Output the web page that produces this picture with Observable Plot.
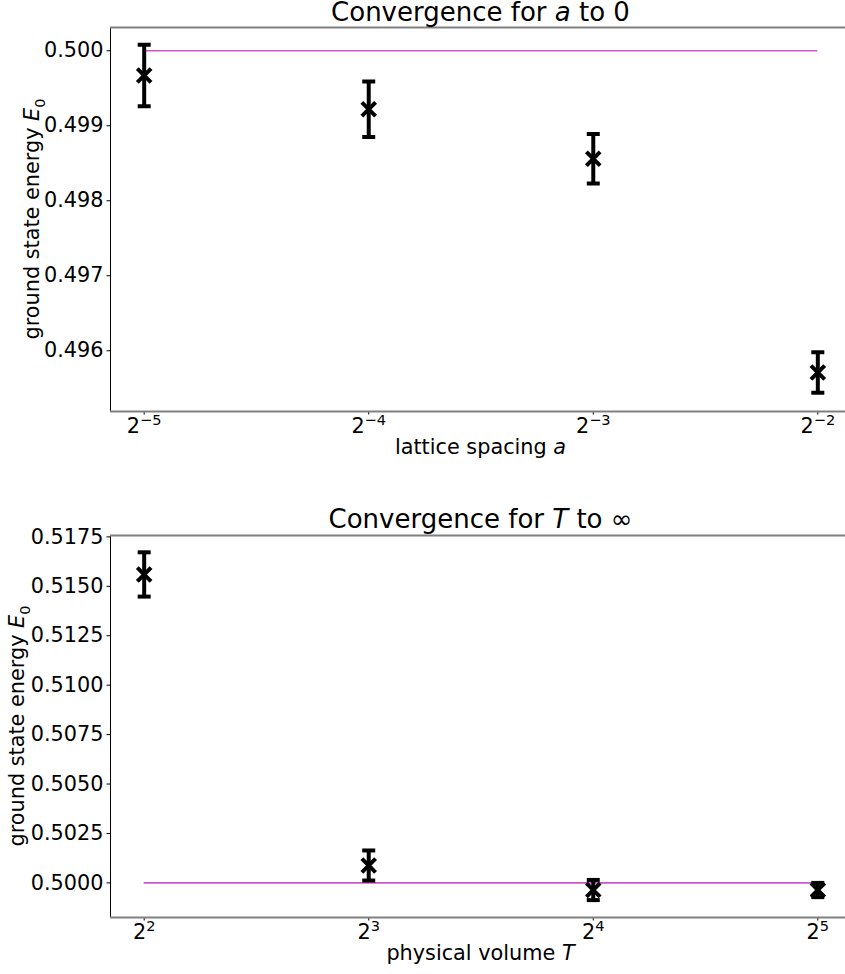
<!DOCTYPE html>
<html><head><meta charset="utf-8">
<script src="https://cdn.jsdelivr.net/npm/d3@7"></script>
<script src="https://cdn.jsdelivr.net/npm/@observablehq/plot@0.6"></script>
<style>
body{margin:0;background:#fff;}
#chart{position:relative;width:845px;height:974px;overflow:hidden;background:#fff;}
#chart svg{display:block;overflow:hidden;}
</style></head><body><div id="chart"></div>
<script>
// ---- data ----
const latticeSpacing = [0.03125, 0.0625, 0.125, 0.25];
const energyA = [0.49967, 0.49922, 0.49856, 0.49571];
const errorA = [0.00041, 0.00037, 0.00033, 0.00027];
const latticeTickLabels = ["2^−5", "2^−4", "2^−3", "2^−2"];
const yTicksA = [0.496, 0.497, 0.498, 0.499, 0.500];

const physicalVolume = [4, 8, 16, 32];
const energyT = [0.51560, 0.50088, 0.49964, 0.49964];
const errorT = [0.00112, 0.00076, 0.00051, 0.00036];
const volumeTickLabels = ["2^2", "2^3", "2^4", "2^5"];
const yTicksT = [0.5000, 0.5025, 0.5050, 0.5075, 0.5100, 0.5125, 0.5150, 0.5175];

const exactEnergy = 0.5;

// ---- helpers ----
const capSymbol = {draw(ctx, size) {const r = Math.sqrt(size / Math.PI); ctx.moveTo(-r, 0); ctx.lineTo(r, 0);}};
const FONT = "DejaVu Sans";
const FS = 20.8;

function panel({xs, ys, errs, xTickLabels, yTicks, yFormat, xDomain, yDomain, height, marginTop, marginBottom}) {
  const data = xs.map((x, i) => ({x, y: ys[i], lo: ys[i] - errs[i], hi: ys[i] + errs[i]}));
  const ref = [{x1: xs[0], x2: xs[xs.length - 1], y: exactEnergy}];
  const svg = Plot.plot({
    width: 845, height, marginLeft: 110, marginRight: -6, marginTop, marginBottom,
    style: {fontFamily: FONT, fontSize: FS + "px", color: "#000", background: "#fff", overflow: "hidden"},
    x: {type: "log", base: 2, domain: xDomain, range: [110, 851]},
    y: {domain: yDomain},
    marks: [
      Plot.ruleY(ref, {x1: "x1", x2: "x2", y: "y", stroke: "#cc55cc", strokeWidth: 1.6}),
      Plot.ruleX(data, {x: "x", y1: "lo", y2: "hi", stroke: "#000", strokeWidth: 4}),
      Plot.dot(data, {x: "x", y: "lo", symbol: capSymbol, r: 6.5, fill: "none", stroke: "#000", strokeWidth: 4}),
      Plot.dot(data, {x: "x", y: "hi", symbol: capSymbol, r: 6.5, fill: "none", stroke: "#000", strokeWidth: 4}),
      Plot.dot(data, {x: "x", y: "y", symbol: "times", r: 6.3, fill: "none", stroke: "#000", strokeWidth: 4}),
      Plot.axisX({ticks: xs, tickFormat: d => xTickLabels[xs.indexOf(d)], tickSize: 3.5, tickPadding: 3, fontSize: FS, label: null, strokeWidth: 1}),
      Plot.axisY({ticks: yTicks, tickFormat: yFormat, tickSize: 3.5, tickPadding: 3.5, fontSize: FS, label: null, strokeWidth: 1}),
      Plot.ruleX([xDomain[0]], {stroke: "#000", strokeWidth: 1}),
      Plot.ruleY([yDomain[1]], {stroke: "#808080", strokeWidth: 2}),
      Plot.ruleY([yDomain[0]], {stroke: "#808080", strokeWidth: 2})
    ]
  });
  // render "base^exp" tick labels with a real superscript
  d3.select(svg).selectAll('g[aria-label="x-axis tick label"] text').each(function() {
    const [base, exp] = this.textContent.split("^");
    const t = d3.select(this).text("");
    t.append("tspan").text(base);
    t.append("tspan").text(exp).attr("font-size", FS * 0.7).attr("dy", -8);
  });
  return svg;
}

function addText(svg, {x, y, rotate, size, parts}) {
  const t = d3.select(svg).append("text")
    .attr("x", x).attr("y", y).attr("text-anchor", "middle")
    .attr("font-size", size).attr("font-family", FONT).attr("fill", "#000");
  if (rotate) t.attr("transform", `rotate(${rotate},${x},${y})`);
  parts.forEach(p => {
    const s = t.append("tspan").text(p.text);
    if (p.italic) s.attr("font-style", "italic");
    if (p.sub) s.attr("font-size", size * 0.7).attr("dy", size * 0.28);
  });
}

const chart = document.getElementById("chart");

// top panel
const panelA = panel({
  xs: latticeSpacing, ys: energyA, errs: errorA, xTickLabels: latticeTickLabels,
  yTicks: yTicksA, yFormat: d3.format(".3f"),
  xDomain: [Math.pow(2, -5.15), Math.pow(2, -1.85)], yDomain: [0.49519, 0.50031],
  height: 487, marginTop: 27, marginBottom: 76
});
addText(panelA, {x: 480.5, y: 21, size: 26, parts: [{text: "Convergence for "}, {text: "a", italic: true}, {text: " to 0"}]});
addText(panelA, {x: 480.5, y: 454, size: FS, parts: [{text: "lattice spacing "}, {text: "a", italic: true}]});
addText(panelA, {x: 39, y: 219, rotate: -90, size: FS, parts: [{text: "ground state energy "}, {text: "E", italic: true}, {text: "0", sub: true}]});
chart.appendChild(panelA);

// bottom panel
const panelT = panel({
  xs: physicalVolume, ys: energyT, errs: errorT, xTickLabels: volumeTickLabels,
  yTicks: yTicksT, yFormat: d3.format(".4f"),
  xDomain: [Math.pow(2, 1.85), Math.pow(2, 5.15)], yDomain: [0.49825, 0.51757],
  height: 487, marginTop: 48, marginBottom: 57
});
addText(panelT, {x: 480.5, y: 41, size: 26, parts: [{text: "Convergence for "}, {text: "T", italic: true}, {text: " to ∞"}]});
addText(panelT, {x: 480.5, y: 473, size: FS, parts: [{text: "physical volume "}, {text: "T", italic: true}]});
addText(panelT, {x: 24, y: 239, rotate: -90, size: FS, parts: [{text: "ground state energy "}, {text: "E", italic: true}, {text: "0", sub: true}]});
chart.appendChild(panelT);
</script></body></html>
